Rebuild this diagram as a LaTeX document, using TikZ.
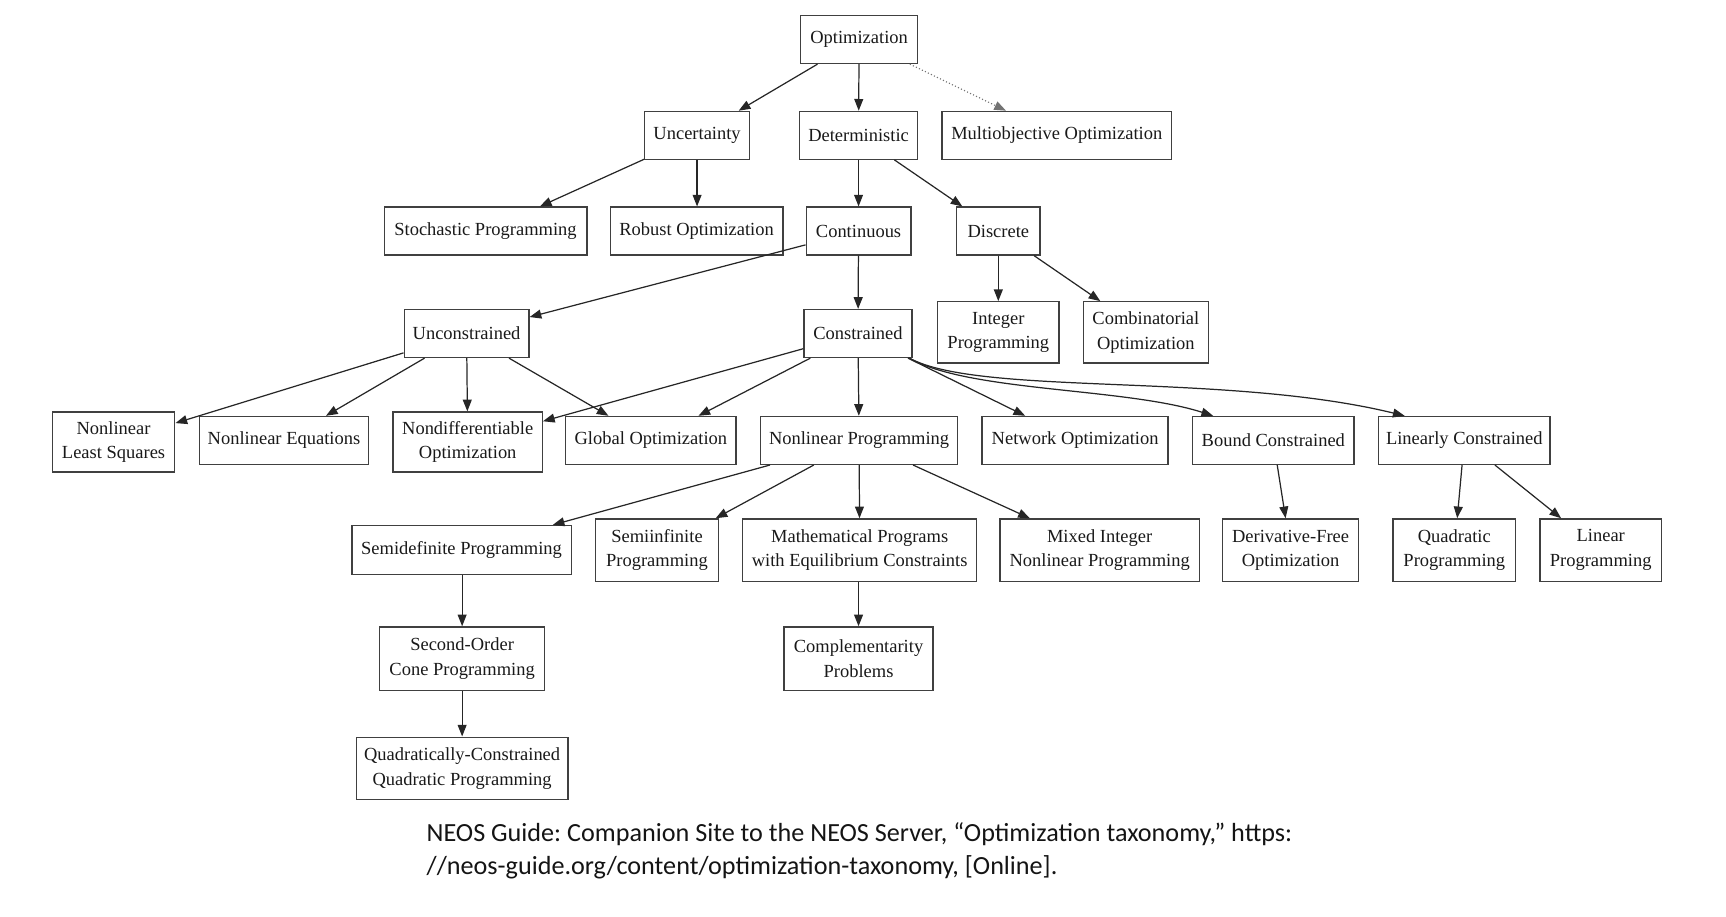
\documentclass[tikz,border=0pt]{standalone}
\usepackage{fontspec}
\setmainfont{Liberation Serif}
\newfontfamily\capfont{Carlito}
\usetikzlibrary{arrows.meta,calc}
\frenchspacing
\begin{document}
\begin{tikzpicture}[x=1pt,y=-1pt,
  box/.style={draw=black!75, line width=1.2pt, inner sep=0pt, align=center,
    font=\fontsize{16.6}{22}\selectfont, text=black!90},
  edge/.style={draw=black!85, line width=1.1pt, -{Triangle[length=10.5pt,width=8pt]}},
  dotedge/.style={draw=black!55, line width=1pt, dotted, -{Triangle[length=10.5pt,width=8pt]}}]
\useasboundingbox (0,0) rectangle (1550,822.6);
\newcommand\bx[6]{\node[box, minimum width=#4pt, minimum height=#5pt] (#1) at (#2,#3) {#6};}
% row 1
\bx{opt}{771.5}{35.5}{105}{43}{Optimization}
% row 2
\bx{unc}{626}{121.5}{94}{43}{Uncertainty}
\bx{det}{771}{121.5}{106}{43}{Deterministic}
\bx{multi}{949}{121.5}{206}{43}{Multiobjective Optimization}
% row 3
\bx{sto}{436}{207.5}{182}{43}{Stochastic Programming}
\bx{rob}{625.5}{207.5}{155}{43}{Robust Optimization}
\bx{cont}{771}{207.5}{94}{43}{Continuous}
\bx{disc}{896.5}{207.5}{75}{43}{Discrete}
% row 4
\bx{uncon}{419}{299.5}{112}{43}{Unconstrained}
\bx{con}{770.5}{299.5}{97}{43}{Constrained}
\bx{int}{896.5}{298.5}{109}{55}{Integer\\Programming}
\bx{comb}{1029}{298.5}{112}{55}{Combinatorial\\Optimization}
% row 5
\bx{nlls}{102}{397}{110}{54}{Nonlinear\\Least Squares}
\bx{neq}{255}{395.5}{152}{43}{Nonlinear Equations}
\bx{nondiff}{420}{397}{134}{54}{Nondifferentiable\\Optimization}
\bx{glob}{584.5}{395.5}{153}{43}{Global Optimization}
\bx{nlp}{771.5}{395.5}{177}{43}{Nonlinear Programming}
\bx{net}{965.5}{395.5}{167}{43}{Network Optimization}
\bx{bound}{1143.5}{395.5}{145}{43}{Bound Constrained}
\bx{lin}{1315}{395.5}{154}{43}{Linearly Constrained}
% row 6
\bx{sdp}{414.5}{494}{197}{44}{Semidefinite Programming}
\bx{sip}{590}{494}{110}{56}{Semiinfinite\\Programming}
\bx{mpec}{772}{494}{210}{56}{Mathematical Programs\\with Equilibrium Constraints}
\bx{minlp}{987.5}{494}{179}{56}{Mixed Integer\\Nonlinear Programming}
\bx{dfo}{1159}{494}{122}{56}{Derivative-Free\\Optimization}
\bx{qp}{1306}{494}{110}{56}{Quadratic\\Programming}
\bx{lp}{1437.5}{494}{109}{56}{Linear\\Programming}
% row 7
\bx{socp}{415}{591.5}{148}{57}{Second-Order\\Cone Programming}
\bx{cp}{771}{591.5}{134}{57}{Complementarity\\Problems}
% row 8
\bx{qcqp}{415}{690}{190}{56}{Quadratically-Constrained\\Quadratic Programming}
% edges
\draw[edge] (opt) -- (unc);
\draw[edge] (opt) -- (det);
\draw[dotedge] (opt) -- (multi);
\draw[edge] (unc) -- (sto);
\draw[edge] (unc.south) -- (rob.north -| unc.south);
\draw[edge] (det) -- (cont);
\draw[edge] (det) -- (disc);
\draw[edge] (cont) -- (uncon);
\draw[edge] (cont) -- (con);
\draw[edge] (disc) -- (int);
\draw[edge] (disc) -- (comb);
\draw[edge] (uncon) -- (nlls);
\draw[edge] (uncon) -- (neq);
\draw[edge] (uncon) -- (nondiff);
\draw[edge] (uncon) -- (glob);
\draw[edge] (con) -- (nondiff);
\draw[edge] (con) -- (glob);
\draw[edge] (con) -- (nlp);
\draw[edge] (con) -- (net);
\draw[edge] ($(con.south east)+(-3,0)$) .. controls (870,352) and (1010,348) .. ($(bound.north west)+(19,0)$);
\draw[edge] ($(con.south east)+(-3,0)$) .. controls (880,356) and (1100,334) .. ($(lin.north west)+(24,0)$);
\draw[edge] (nlp) -- (sdp);
\draw[edge] (nlp) -- (sip);
\draw[edge] (nlp) -- (mpec);
\draw[edge] (nlp) -- (minlp);
\draw[edge] (bound) -- (dfo);
\draw[edge] (lin) -- (qp);
\draw[edge] (lin) -- (lp);
\draw[edge] (sdp.south -| socp.north) -- (socp.north);
\draw[edge] (socp) -- (qcqp);
\draw[edge] (mpec.south -| cp.north) -- (cp.north);
% caption
\node[anchor=west, align=left, inner sep=0pt, text=black!92,
  font=\capfont\fontsize{23.5}{30}\selectfont] (cap) at (383,764)
  {NEOS Guide: Companion Site to the NEOS Server, “Optimization taxonomy,” https:\\
   //neos-guide.org/content/optimization-taxonomy, [Online].};
\end{tikzpicture}
\end{document}
